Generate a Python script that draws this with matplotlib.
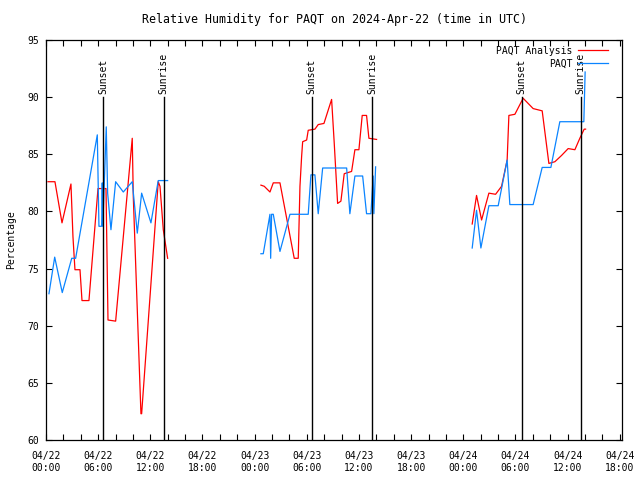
import numpy as np
import pandas as pd
import matplotlib
matplotlib.use("Agg")
import matplotlib.pyplot as plt
import matplotlib.dates as mdates

plt.rcParams['font.family'] = ['DejaVu Sans Mono']
plt.rcParams['font.size'] = 7

start = pd.Timestamp("2024-04-22 00:00")

# hours since 04/22 00:00 UTC, one list per stretch of data
analysis_hours = [
    [0.23, 1.03, 1.84, 2.87, 3.10, 3.33, 3.91, 4.14, 4.94, 5.98, 6.90, 7.13,
     8.01, 9.92, 10.04, 10.92, 11.00, 12.91, 13.11, 13.49, 13.99],
    [24.72, 25.10, 25.76, 26.14, 26.91, 28.55, 29.01, 29.21, 29.40, 29.52,
     29.98, 30.16, 30.93, 31.31, 31.97, 32.85, 33.15, 33.54, 33.92, 34.30,
     35.15, 35.53, 35.99, 36.37, 36.87, 37.14, 38.02],
    [49.02, 49.52, 49.79, 50.10, 50.94, 51.71, 52.40, 53.04, 53.24, 53.93,
     54.88, 56.03, 57.07, 57.84, 58.53, 59.30, 60.06, 60.83, 61.40, 61.90, 62.06],
]
analysis_rh = [
    [82.6, 82.6, 79.0, 82.4, 77.8, 74.9, 74.9, 72.2, 72.2, 82.0, 82.0, 70.5,
     70.4, 86.4, 81.3, 62.3, 62.3, 82.6, 82.2, 78.4, 75.9],
    [82.3, 82.2, 81.7, 82.5, 82.5, 75.9, 75.9, 82.2, 84.8, 86.1,
     86.25, 87.1, 87.2, 87.6, 87.7, 89.8, 86.0, 80.7, 80.9, 83.3,
     83.5, 85.4, 85.4, 88.4, 88.4, 86.4, 86.3],
    [78.9, 81.4, 80.4, 79.25, 81.6, 81.5, 82.2, 84.5, 88.4, 88.5,
     89.9, 89.0, 88.8, 84.2, 84.35, 84.9, 85.5, 85.4, 86.4, 87.2, 87.2],
]

obs_hours = [
    [0.34, 1.00, 1.87, 2.96, 3.41, 5.90, 6.09, 6.40, 6.47, 6.53, 6.93, 7.09,
     7.47, 8.01, 8.89, 9.92, 10.50, 11.00, 12.07, 12.91, 13.99],
    [24.72, 24.99, 25.76, 25.84, 25.95, 26.14, 26.91, 28.06, 30.16, 30.47,
     30.93, 31.31, 31.82, 34.58, 34.95, 35.53, 36.42, 36.87, 37.37, 37.63,
     37.71, 37.91],
    [49.02, 49.52, 50.02, 50.94, 52.01, 53.04, 53.35, 56.03, 57.07, 58.07,
     59.10, 61.86, 62.01],
]
obs_rh = [
    [72.8, 76.0, 72.9, 75.9, 75.9, 86.7, 78.7, 78.7, 82.5, 78.7, 87.4, 81.6,
     78.4, 82.6, 81.7, 82.6, 78.1, 81.6, 79.0, 82.7, 82.7],
    [76.3, 76.3, 79.75, 75.9, 79.75, 79.75, 76.5, 79.75, 79.75, 83.2,
     83.2, 79.8, 83.8, 83.8, 79.8, 83.1, 83.1, 79.8, 79.8, 83.1,
     79.8, 83.9],
    [76.8, 80.1, 76.8, 80.5, 80.5, 84.5, 80.6, 80.6, 83.85, 83.85,
     87.85, 87.85, 92.2],
]

sunset_hours = [6.55, 30.58, 54.73]
sunrise_hours = [13.55, 37.50, 61.50]


def to_time(h):
    return start + pd.to_timedelta(np.asarray(h), unit="h")


fig = plt.figure(figsize=(6.4, 4.8), dpi=100)
ax = fig.add_axes([46 / 640, 40 / 480, 576 / 640, 400 / 480])

for i, (h, v) in enumerate(zip(analysis_hours, analysis_rh)):
    ax.plot(to_time(h), v, color='#ff0000', lw=0.9,
            label='PAQT Analysis' if i == 0 else None)
for i, (h, v) in enumerate(zip(obs_hours, obs_rh)):
    ax.plot(to_time(h), v, color='#0a84ff', lw=0.9,
            label='PAQT' if i == 0 else None)

for name, hours in (('Sunset', sunset_hours), ('Sunrise', sunrise_hours)):
    for t in to_time(hours):
        ax.plot([t, t], [60, 90], color='black', lw=1.0)
        ax.text(t, 90.3, name, rotation=90, ha='center', va='bottom')

ax.set_xlim(to_time(0), to_time(66.25))
ax.set_ylim(60, 95)
ax.set_yticks(np.arange(60, 96, 5))
ax.xaxis.set_major_locator(mdates.HourLocator(byhour=[0, 6, 12, 18]))
ax.xaxis.set_minor_locator(mdates.HourLocator(byhour=range(0, 24, 2)))
ax.xaxis.set_major_formatter(mdates.DateFormatter("%m/%d\n%H:%M"))
ax.tick_params(which='both', direction='in', top=True, right=True,
               length=4, width=0.8)
ax.tick_params(axis='x', pad=8)
ax.tick_params(axis='y', pad=5)
for sp in ax.spines.values():
    sp.set_linewidth(0.9)

ax.set_title("Relative Humidity for PAQT on 2024-Apr-22 (time in UTC)", pad=12)
ax.set_ylabel("Percentage", labelpad=8)

ax.legend(loc='upper right', frameon=False, markerfirst=False,
          handlelength=3.0, handletextpad=0.6, labelspacing=0.3,
          borderaxespad=0.2, bbox_to_anchor=(0.985, 1.0))

fig.savefig("out.png", dpi=100)
